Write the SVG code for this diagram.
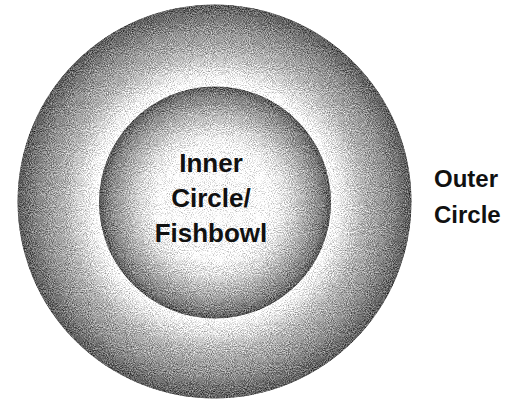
<svg xmlns="http://www.w3.org/2000/svg" width="529" height="401" viewBox="0 0 529 401">
  <style>
    .lbl { font-family: "Liberation Sans", Arial, sans-serif; font-weight: bold; fill: #111; text-anchor: middle; }
    .inner-lbl { font-size: 26px; }
    .outer-lbl { font-size: 24px; text-anchor: start; }
  </style>
  <defs>
    <radialGradient id="gOuter" gradientUnits="userSpaceOnUse" cx="214.5" cy="201.5" r="197">
      <stop offset="0" stop-color="#ffffff"/>
      <stop offset="0.6" stop-color="#ffffff"/>
      <stop offset="0.66" stop-color="#e4e4e4"/>
      <stop offset="0.76" stop-color="#b4b4b4"/>
      <stop offset="0.88" stop-color="#8e8e8e"/>
      <stop offset="1" stop-color="#5c5c5c"/>
    </radialGradient>
    <radialGradient id="gInner" gradientUnits="userSpaceOnUse" cx="215" cy="202.5" r="116">
      <stop offset="0" stop-color="#ffffff"/>
      <stop offset="0.48" stop-color="#ffffff"/>
      <stop offset="0.64" stop-color="#dadada"/>
      <stop offset="0.8" stop-color="#a8a8a8"/>
      <stop offset="0.93" stop-color="#7e7e7e"/>
      <stop offset="1" stop-color="#565656"/>
    </radialGradient>
    <filter id="grain" x="0" y="0" width="100%" height="100%" color-interpolation-filters="sRGB">
      <feTurbulence type="fractalNoise" baseFrequency="0.95" numOctaves="2" seed="7" result="n"/>
      <feColorMatrix in="n" type="matrix" values="1 0 0 0 0  1 0 0 0 0  1 0 0 0 0  0 0 0 0 1" result="g"/>
      <feComposite in="SourceGraphic" in2="g" operator="arithmetic" k1="0" k2="1" k3="0.9" k4="-0.45" result="mix"/>
      <feComposite in="mix" in2="SourceAlpha" operator="in"/>
    </filter>
  </defs>
  <rect width="529" height="401" fill="#ffffff"/>
  <g id="outer-circle">
    <circle cx="214.5" cy="201.5" r="197" fill="url(#gOuter)" filter="url(#grain)"/>
  </g>
  <g id="inner-circle">
    <circle cx="215" cy="202.5" r="116" fill="url(#gInner)" filter="url(#grain)"/>
    <text class="lbl inner-lbl" x="211" y="172">Inner</text>
    <text class="lbl inner-lbl" x="211" y="207">Circle/</text>
    <text class="lbl inner-lbl" x="211" y="242">Fishbowl</text>
  </g>
  <g id="outer-label">
    <text class="lbl outer-lbl" x="434" y="187">Outer</text>
    <text class="lbl outer-lbl" x="434" y="223">Circle</text>
  </g>
</svg>
